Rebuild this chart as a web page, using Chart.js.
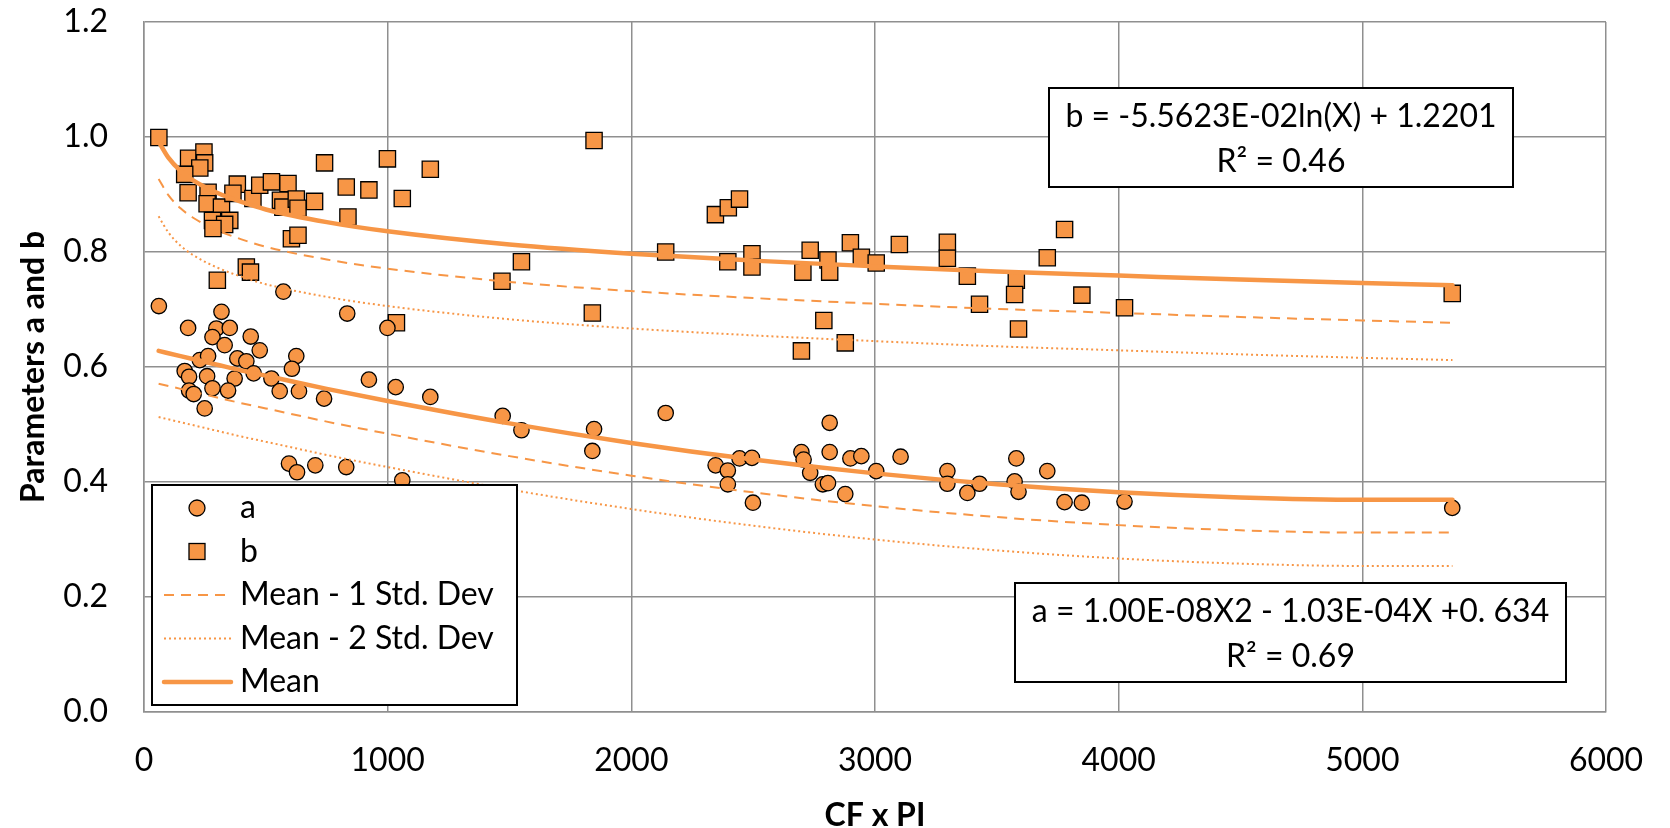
<!DOCTYPE html>
<html>
<head>
<meta charset="utf-8">
<title>Parameters a and b vs CF x PI</title>
<script src="https://cdn.jsdelivr.net/npm/chart.js@4.4.1/dist/chart.umd.min.js"></script>
<style>
  html, body { margin: 0; padding: 0; background: #fff; }
  #wrap { width: 1670px; height: 828px; }
</style>
</head>
<body>
<div id="wrap"><canvas id="chart" width="1670" height="828"></canvas></div>
<script>
// Scatter points
const aX = [61, 318, 181, 297, 352, 281, 331, 438, 475, 625, 607, 229, 263, 383, 420, 167, 185, 259, 372, 450,
  523, 185, 204, 281, 345, 557, 636, 249, 739, 572, 834, 923, 1033, 1175, 999, 1472, 1549, 595, 628, 703,
  830, 1060, 2141, 1847, 1840, 2346, 2396, 2396, 2444, 2495, 2499, 2698, 2707, 2734, 2814, 2814, 2786, 2807, 2878, 2899,
  2944, 3005, 3105, 3297, 3297, 3379, 3429, 3580, 3573, 3589, 3707, 3778, 3849, 4024, 5369];
const aY = [0.706, 0.696, 0.668, 0.667, 0.668, 0.652, 0.638, 0.653, 0.629, 0.619, 0.597, 0.612, 0.619, 0.615, 0.610, 0.593, 0.583, 0.584, 0.580, 0.589,
  0.580, 0.559, 0.553, 0.563, 0.559, 0.558, 0.558, 0.528, 0.545, 0.731, 0.693, 0.578, 0.565, 0.548, 0.668, 0.515, 0.490, 0.432, 0.417, 0.429,
  0.426, 0.403, 0.520, 0.492, 0.454, 0.429, 0.420, 0.396, 0.441, 0.442, 0.364, 0.452, 0.439, 0.416, 0.503, 0.452, 0.396, 0.398, 0.379, 0.441,
  0.445, 0.419, 0.444, 0.419, 0.397, 0.381, 0.397, 0.441, 0.401, 0.383, 0.419, 0.365, 0.364, 0.366, 0.355];

const bX = [61, 183, 246, 249, 229, 167, 181, 263, 259, 318, 352, 281, 331, 283, 383, 365, 447, 475, 523, 591,
  560, 570, 625, 632, 700, 741, 830, 605, 632, 837, 923, 999, 1060, 1175, 420, 437, 301, 1036, 1549, 1469,
  1847, 2345, 2398, 2444, 2141, 2396, 2495, 2495, 1840, 2734, 2704, 2807, 2814, 2899, 2944, 3005, 3100, 2790, 2878, 2698,
  3297, 3297, 3379, 3580, 3573, 3429, 3589, 3707, 3778, 3849, 4024, 5369];
const bY = [0.999, 0.963, 0.974, 0.955, 0.946, 0.935, 0.903, 0.904, 0.884, 0.878, 0.855, 0.855, 0.848, 0.841, 0.918, 0.902, 0.893, 0.916, 0.922, 0.919,
  0.890, 0.878, 0.892, 0.876, 0.888, 0.955, 0.913, 0.823, 0.829, 0.861, 0.908, 0.962, 0.893, 0.944, 0.774, 0.765, 0.751, 0.677, 0.783, 0.749,
  0.994, 0.865, 0.877, 0.892, 0.800, 0.783, 0.797, 0.774, 0.694, 0.803, 0.765, 0.786, 0.765, 0.816, 0.791, 0.781, 0.813, 0.681, 0.642, 0.628,
  0.817, 0.789, 0.758, 0.751, 0.726, 0.709, 0.666, 0.790, 0.839, 0.725, 0.703, 0.728];

// Trend curves, sampled along x
const curveX = [60, 100, 150, 200, 300, 400, 500, 750, 1000, 1500, 2000, 2500, 3000, 3500, 4000, 4500, 5000, 5370];
const meanB  = [0.992, 0.964, 0.941, 0.925, 0.903, 0.887, 0.874, 0.852, 0.836, 0.813, 0.797, 0.785, 0.775, 0.766, 0.759, 0.752, 0.746, 0.742];
const meanB1 = [0.927, 0.899, 0.876, 0.860, 0.838, 0.822, 0.809, 0.787, 0.771, 0.748, 0.732, 0.720, 0.710, 0.701, 0.694, 0.687, 0.681, 0.677];
const meanB2 = [0.862, 0.834, 0.811, 0.795, 0.773, 0.757, 0.744, 0.722, 0.706, 0.683, 0.667, 0.655, 0.645, 0.636, 0.629, 0.622, 0.616, 0.612];
const meanA  = [0.628, 0.624, 0.619, 0.614, 0.604, 0.594, 0.585, 0.562, 0.541, 0.502, 0.468, 0.439, 0.415, 0.396, 0.382, 0.373, 0.369, 0.369];
const meanA1 = [0.571, 0.567, 0.562, 0.557, 0.547, 0.537, 0.528, 0.505, 0.484, 0.445, 0.411, 0.382, 0.358, 0.339, 0.325, 0.316, 0.312, 0.312];
const meanA2 = [0.513, 0.509, 0.504, 0.499, 0.489, 0.479, 0.470, 0.447, 0.426, 0.387, 0.353, 0.324, 0.300, 0.281, 0.267, 0.258, 0.254, 0.254];

const ORANGE = '#F79646';
const GRID = '#8f8f8f';
const DASH = [10, 7];
const DOT = [2, 3];

const fitLabels = [
  { lines: ['b = -5.5623E-02ln(X) + 1.2201', 'R\u00B2 = 0.46'], box: [1049, 88, 1513, 187] },
  { lines: ['a = 1.00E-08X2 - 1.03E-04X +0. 634', 'R\u00B2 = 0.69'], box: [1015, 583, 1566, 682] }
];

const legendItems = [
  { text: 'a', kind: 'circle' },
  { text: 'b', kind: 'square' },
  { text: 'Mean - 1 Std. Dev', kind: 'line', dash: DASH, width: 2 },
  { text: 'Mean - 2 Std. Dev', kind: 'line', dash: DOT, width: 2 },
  { text: 'Mean', kind: 'line', dash: [], width: 4.5 }
];

function pts(xs, ys) {
  return xs.map((x, i) => ({ x: x, y: ys[i] }));
}

function curve(label, ys, dash, width) {
  return {
    type: 'line',
    label: label,
    data: pts(curveX, ys),
    borderColor: ORANGE,
    borderWidth: width,
    borderDash: dash,
    borderCapStyle: dash.length ? 'butt' : 'round',
    pointRadius: 0,
    cubicInterpolationMode: 'monotone',
    fill: false
  };
}

// equation boxes + legend drawn over the plot
const overlayPlugin = {
  id: 'overlay',
  afterDraw(chart) {
    const ctx = chart.ctx;
    ctx.save();
    ctx.font = '32px Lato';
    ctx.textBaseline = 'middle';

    fitLabels.forEach(f => {
      const [x1, y1, x2, y2] = f.box;
      ctx.fillStyle = '#fff';
      ctx.fillRect(x1, y1, x2 - x1, y2 - y1);
      ctx.lineWidth = 2;
      ctx.strokeStyle = '#000';
      ctx.strokeRect(x1, y1, x2 - x1, y2 - y1);
      ctx.fillStyle = '#000';
      ctx.textAlign = 'center';
      ctx.fillText(f.lines[0], (x1 + x2) / 2, y1 + 29);
      ctx.fillText(f.lines[1], (x1 + x2) / 2, y1 + 74);
    });

    // legend box
    const lx = 152, ly = 485, lw = 365, lh = 220;
    ctx.fillStyle = '#fff';
    ctx.fillRect(lx, ly, lw, lh);
    ctx.lineWidth = 2;
    ctx.strokeStyle = '#000';
    ctx.strokeRect(lx, ly, lw, lh);

    legendItems.forEach((it, i) => {
      const y = ly + 23 + i * 43.5;
      const mx = lx + 45;
      ctx.setLineDash([]);
      if (it.kind === 'circle') {
        ctx.beginPath();
        ctx.arc(mx, y, 8, 0, Math.PI * 2);
        ctx.fillStyle = ORANGE;
        ctx.fill();
        ctx.lineWidth = 1.3;
        ctx.strokeStyle = '#000';
        ctx.stroke();
      } else if (it.kind === 'square') {
        ctx.fillStyle = ORANGE;
        ctx.fillRect(mx - 8, y - 8, 16, 16);
        ctx.lineWidth = 1.3;
        ctx.strokeStyle = '#000';
        ctx.strokeRect(mx - 8, y - 8, 16, 16);
      } else {
        ctx.beginPath();
        ctx.setLineDash(it.dash);
        ctx.lineCap = it.dash.length ? 'butt' : 'round';
        ctx.moveTo(lx + 12, y);
        ctx.lineTo(lx + 79, y);
        ctx.lineWidth = it.width;
        ctx.strokeStyle = ORANGE;
        ctx.stroke();
      }
      ctx.setLineDash([]);
      ctx.fillStyle = '#000';
      ctx.textAlign = 'left';
      ctx.fillText(it.text, lx + 88, y);
    });
    ctx.restore();
  }
};

function draw() {
  Chart.defaults.font.family = 'Lato';
  Chart.defaults.color = '#000';

  new Chart(document.getElementById('chart'), {
    type: 'scatter',
    data: {
      datasets: [
        curve('Mean', meanA, [], 4.5),
        curve('Mean - 1 Std. Dev', meanA1, DASH, 2),
        curve('Mean - 2 Std. Dev', meanA2, DOT, 2),
        curve('Mean', meanB, [], 4.5),
        curve('Mean - 1 Std. Dev', meanB1, DASH, 2),
        curve('Mean - 2 Std. Dev', meanB2, DOT, 2),
        {
          label: 'a',
          data: pts(aX, aY),
          pointStyle: 'circle',
          pointRadius: 7.7,
          backgroundColor: ORANGE,
          borderColor: '#000',
          borderWidth: 1.3
        },
        {
          label: 'b',
          data: pts(bX, bY),
          pointStyle: 'rect',
          pointRadius: 11.5,
          backgroundColor: ORANGE,
          borderColor: '#000',
          borderWidth: 1.3
        }
      ]
    },
    options: {
      responsive: false,
      animation: false,
      events: [],
      layout: { padding: { left: 0, right: 64, top: 22, bottom: 0 } },
      plugins: {
        legend: { display: false },
        tooltip: { enabled: false }
      },
      scales: {
        x: {
          type: 'linear',
          min: 0,
          max: 6000,
          ticks: {
            stepSize: 1000,
            padding: 0,
            maxRotation: 0,
            font: { size: 32 },
            callback: v => String(v)
          },
          // invisible tick marks push the labels away from the axis
          grid: { color: GRID, lineWidth: 1.5, drawTicks: true, tickLength: 29, tickColor: 'rgba(0,0,0,0)' },
          border: { color: GRID, width: 1.5 },
          title: {
            display: true,
            text: 'CF x PI',
            font: { size: 32, weight: 'bold', lineHeight: 1 },
            padding: { top: 0, bottom: -4 }
          },
          afterFit(scale) { scale.height = 116; }
        },
        y: {
          min: 0,
          max: 1.2,
          ticks: {
            stepSize: 0.2,
            padding: 0,
            font: { size: 32 },
            callback: v => v.toFixed(1)
          },
          grid: { color: GRID, lineWidth: 1.5, drawTicks: true, tickLength: 36, tickColor: 'rgba(0,0,0,0)' },
          border: { color: GRID, width: 1.5 },
          title: {
            display: true,
            text: 'Parameters a and b',
            font: { size: 32, weight: 'bold', lineHeight: 1 },
            padding: { top: 18, bottom: 0 }
          },
          afterFit(scale) { scale.width = 144; }
        }
      }
    },
    plugins: [overlayPlugin]
  });
}

document.fonts.load('32px Lato').then(draw, draw);
</script>
</body>
</html>
